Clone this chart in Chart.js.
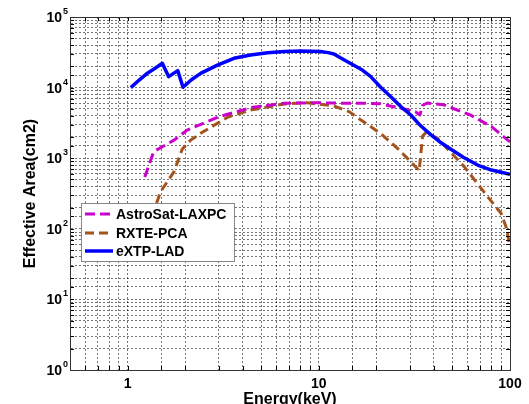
<!DOCTYPE html>
<html>
<head>
<meta charset="utf-8">
<script src="https://cdn.jsdelivr.net/npm/chart.js@4"></script>
<style>
  body { margin: 0; background: #fff; }
  #wrap { width: 529px; height: 404px; }
</style>
</head>
<body>
<div id="wrap"><canvas id="effArea" width="529" height="404"></canvas></div>
<script>
// energies in keV, areas in cm2
const energyLaxpc = [1.23, 1.37, 1.75, 2.05, 2.95, 4.4, 6.6, 9.8, 14.4, 18.0, 21.0, 24.0, 27.0, 32.0, 33.8, 34.9, 37.0, 45.0, 62.0, 80.0, 100];
const areaLaxpc   = [540, 1240, 1800, 2500, 3800, 5200, 6000, 6100, 6000, 6000, 5900, 5450, 5100, 4550, 4100, 5600, 6050, 5700, 4100, 2800, 1700];

const energyPca = [1.35, 1.42, 1.49, 1.75, 1.93, 2.14, 2.41, 3.33, 4.4, 6.6, 8.7, 12.0, 14.4, 16.6, 21.0, 25.8, 30.3, 33.5, 34.9, 36.3, 41.8, 57.6, 76.4, 89.8, 95.3, 100];
const areaPca   = [150, 234, 336, 646, 1340, 1810, 2250, 3800, 4820, 5860, 6100, 5490, 4570, 3480, 2250, 1380, 890, 665, 2060, 2300, 1910, 760, 285, 166, 107, 56];

const energyLad = [1.04, 1.15, 1.27, 1.4, 1.52, 1.64, 1.83, 1.95, 2.15, 2.41, 2.95, 3.6, 4.4, 5.4, 6.6, 8.0, 10.2, 11.2, 12.0, 13.6, 15.0, 16.9, 18.7, 21.0, 23.8, 27.0, 30.3, 34.0, 38.6, 43.0, 49.1, 57.0, 67.7, 80.0, 100];
const areaLad   = [10000, 12800, 16000, 19000, 22100, 14300, 17400, 10100, 12800, 15900, 20800, 26000, 29000, 31200, 32400, 33000, 32400, 31300, 29900, 24600, 21300, 17700, 14300, 10200, 7440, 5300, 4090, 2900, 2140, 1700, 1340, 1030, 800, 680, 590];

const seriesNames = ["AstroSat-LAXPC", "RXTE-PCA", "eXTP-LAD"];
const xTickValues = [1, 10, 100];
const xTickLabels = ["1", "10", "100"];
const yTickExponents = [0, 1, 2, 3, 4, 5];

const FONT = "'Liberation Sans', Arial, sans-serif";

function pts(xs, ys) {
  return xs.map((x, i) => ({x: x, y: ys[i]}));
}

// y labels as 10 with a superscript, inner tick marks, frame and the boxed legend
const decorPlugin = {
  id: 'decor',
  afterDraw(chart) {
    const ctx = chart.ctx;
    const a = chart.chartArea;
    const xs = chart.scales.x, ys = chart.scales.y;
    ctx.save();

    // inner ticks
    ctx.strokeStyle = '#000';
    ctx.lineWidth = 1;
    ctx.setLineDash([]);
    ctx.beginPath();
    xs.ticks.forEach(t => {
      const px = Math.round(xs.getPixelForValue(t.value)) + 0.5;
      ctx.moveTo(px, a.bottom); ctx.lineTo(px, a.bottom - 4);
      ctx.moveTo(px, a.top); ctx.lineTo(px, a.top + 4);
    });
    ys.ticks.forEach(t => {
      const py = Math.round(ys.getPixelForValue(t.value)) + 0.5;
      ctx.moveTo(a.left, py); ctx.lineTo(a.left + 4, py);
      ctx.moveTo(a.right, py); ctx.lineTo(a.right - 4, py);
    });
    ctx.stroke();

    // frame
    ctx.strokeStyle = '#333';
    ctx.strokeRect(Math.round(a.left) + 0.5, Math.round(a.top) + 0.5,
                   Math.round(a.right - a.left), Math.round(a.bottom - a.top));

    // y tick labels
    ctx.fillStyle = '#000';
    yTickExponents.forEach(e => {
      const py = ys.getPixelForValue(Math.pow(10, e));
      ctx.font = 'bold 14px ' + FONT;
      ctx.textAlign = 'right';
      ctx.textBaseline = 'alphabetic';
      ctx.fillText('10', 62, py + 5);
      ctx.font = 'bold 9px ' + FONT;
      ctx.textAlign = 'left';
      ctx.fillText(String(e), 63, py - 3);
    });

    // legend
    const lx = 81.5, ly = 203.5, lw = 153, lh = 58;
    ctx.fillStyle = '#fff';
    ctx.fillRect(lx, ly, lw, lh);
    ctx.strokeStyle = '#888';
    ctx.lineWidth = 1;
    ctx.strokeRect(lx, ly, lw, lh);
    const rows = [214, 233, 251];
    chart.data.datasets.forEach(ds => {
      const ry = rows[seriesNames.indexOf(ds.label)];
      ctx.strokeStyle = ds.borderColor;
      ctx.lineWidth = ds.borderWidth;
      ctx.setLineDash(ds.borderDash || []);
      ctx.beginPath();
      ctx.moveTo(85, ry); ctx.lineTo(113, ry);
      ctx.stroke();
      ctx.setLineDash([]);
      ctx.fillStyle = '#000';
      ctx.font = 'bold 14px ' + FONT;
      ctx.textAlign = 'left';
      ctx.textBaseline = 'middle';
      ctx.fillText(ds.label, 116, ry + 1);
    });
    ctx.restore();
  }
};

const gridOpts = {color: 'rgba(0,0,0,0.55)', lineWidth: 1, drawTicks: false, tickLength: 0};
const borderOpts = {display: true, color: '#000', width: 1, dash: [2, 2]};

new Chart(document.getElementById('effArea'), {
  type: 'line',
  data: {
    datasets: [
      {label: seriesNames[2], data: pts(energyLad, areaLad), borderColor: '#0000ff', borderWidth: 3.5, order: 0},
      {label: seriesNames[0], data: pts(energyLaxpc, areaLaxpc), borderColor: '#cc00cc', borderWidth: 3, borderDash: [10, 5], order: 1},
      {label: seriesNames[1], data: pts(energyPca, areaPca), borderColor: '#a4531c', borderWidth: 3, borderDash: [9, 5], order: 2}
    ]
  },
  options: {
    responsive: false,
    animation: false,
    elements: {point: {radius: 0}, line: {tension: 0, fill: false, borderJoinStyle: 'round'}},
    layout: {padding: {left: 0, right: 19, top: 17, bottom: 0}},
    plugins: {legend: {display: false}, tooltip: {enabled: false}},
    scales: {
      x: {
        type: 'logarithmic', min: 0.5, max: 100,
        grid: gridOpts, border: borderOpts,
        afterFit: s => { s.height = 34; },
        ticks: {
          autoSkip: false, maxRotation: 0, padding: 6, color: '#000',
          font: {family: FONT, size: 14, weight: 'bold'},
          callback: v => {
            const i = xTickValues.findIndex(t => Math.abs(v - t) / t < 1e-6);
            return i >= 0 ? xTickLabels[i] : '';
          }
        },
        title: {display: true, text: 'Energy(keV)', color: '#000',
                font: {family: FONT, size: 16, weight: 'bold'}, padding: {top: 0, bottom: -5}}
      },
      y: {
        type: 'logarithmic', min: 1, max: 100000,
        grid: gridOpts, border: borderOpts,
        afterFit: s => { s.width = 70; },
        ticks: {autoSkip: false, callback: () => ''},
        title: {display: true, text: 'Effective Area(cm2)', color: '#000',
                font: {family: FONT, size: 16, weight: 'bold'}, padding: {top: 21, bottom: 0}}
      }
    }
  },
  plugins: [decorPlugin]
});
</script>
</body>
</html>
